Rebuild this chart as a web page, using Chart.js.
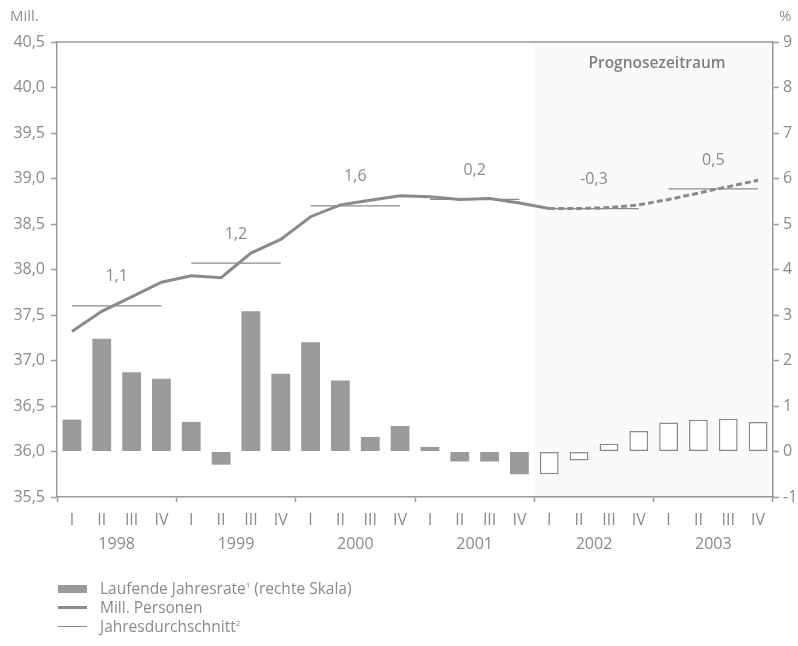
<!DOCTYPE html>
<html>
<head>
<meta charset="utf-8">
<script src="https://cdn.jsdelivr.net/npm/chart.js@4.4.1/dist/chart.umd.min.js"></script>
<style>
  html, body { margin: 0; padding: 0; background: #ffffff; }
  #wrap { position: relative; width: 798px; height: 646px; font-family: "Open Sans", sans-serif; color: #8a8a8a; }
  #c { position: absolute; left: 0; top: 0; }
  .unit { position: absolute; font-size: 15px; color: #8f8f8f; }
  #legend { position: absolute; left: 58px; top: 579px; font-size: 15.5px; color: #8a8a8a; }
  .row { position: relative; height: 19px; line-height: 19px; padding-left: 42px; white-space: nowrap; }
  .sw { position: absolute; left: 0; }
  sup { font-size: 8px; vertical-align: 6px; line-height: 0; }
</style>
</head>
<body>
<div id="wrap">
  <canvas id="c" width="798" height="646"></canvas>
  <div class="unit" style="left:10px; top:5px;">Mill.</div>
  <div class="unit" style="left:779px; top:5px;">%</div>
  <div id="legend">
    <div class="row"><span class="sw" style="top:6px; width:29px; height:8px; background:#9a9a9a;"></span>Laufende Jahresrate<sup>1</sup> (rechte Skala)</div>
    <div class="row"><span class="sw" style="top:8px; width:29px; height:3px; background:#8a8a8a;"></span>Mill. Personen</div>
    <div class="row"><span class="sw" style="top:9px; width:29px; height:1px; background:#8a8a8a;"></span>Jahresdurchschnitt<sup>2</sup></div>
  </div>
</div>
<script>
// ---- data ----
const quarters = ['I','II','III','IV','I','II','III','IV','I','II','III','IV','I','II','III','IV','I','II','III','IV','I','II','III','IV'];
const years = ['1998','1999','2000','2001','2002','2003'];
const rate = [0.70, 2.48, 1.74, 1.60,
              0.65, -0.29, 3.08, 1.71,
              2.40, 1.56, 0.32, 0.56,
              0.10, -0.22, -0.22, -0.50,
              -0.50, -0.20, 0.17, 0.45,
              0.64, 0.70, 0.72, 0.65];
const persons = [37.32, 37.54, 37.70, 37.86,
                 37.93, 37.91, 38.18, 38.33,
                 38.58, 38.71, 38.76, 38.81,
                 38.80, 38.77, 38.78, 38.73,
                 38.67, 38.67, 38.68, 38.71,
                 38.77, 38.84, 38.91, 38.98];
const annualAvg = [37.60, 38.07, 38.70, 38.77, 38.67, 38.885];
const annualChange = ['1,1', '1,2', '1,6', '0,2', '-0,3', '0,5'];
const forecastStart = 16; // first forecast quarter (2002 I)
const leftTicks = { min: 35.5, max: 40.5, step: 0.5 };
const rightTicks = { min: -1, max: 9, step: 1 };

// ---- styles ----
const axisColor = '#9a9a9a';
const textColor = '#8a8a8a';
const lineColor = '#8a8a8a';
const barGray = '#9a9a9a';
const tickFont = { family: '"Open Sans", sans-serif', size: 16 };

const avgSeries = annualAvg.flatMap(a => [a, a, a, a]);

const overlay = {
  id: 'overlay',
  beforeDatasetsDraw(chart) {
    const { ctx, chartArea, scales } = chart;
    const x = scales.x;
    const xs = (x.getPixelForTick(forecastStart - 1) + x.getPixelForTick(forecastStart)) / 2;
    ctx.save();
    ctx.fillStyle = 'rgba(0,0,0,0.018)';
    ctx.fillRect(xs, chartArea.top, chartArea.right - xs, chartArea.bottom - chartArea.top);
    ctx.restore();
  },
  afterDatasetsDraw(chart) {
    const { ctx, chartArea, scales } = chart;
    const x = scales.x, y = scales.y;
    ctx.save();
    ctx.font = '16px "Open Sans", sans-serif';
    ctx.fillStyle = textColor;
    ctx.textAlign = 'center';
    ctx.textBaseline = 'middle';
    annualChange.forEach((lbl, i) => {
      const cx = (x.getPixelForTick(i * 4 + 1) + x.getPixelForTick(i * 4 + 2)) / 2;
      const cy = y.getPixelForValue(annualAvg[i]) - 29;
      ctx.fillText(lbl, cx, cy);
    });
    ctx.font = '600 15.5px "Open Sans", sans-serif';
    ctx.fillStyle = '#7e7e7e';
    ctx.fillText('Prognosezeitraum', chartArea.right - 116, chartArea.top + 22);
    // top frame line
    ctx.strokeStyle = axisColor;
    ctx.lineWidth = 1.5;
    ctx.beginPath();
    ctx.moveTo(chartArea.left, chartArea.top);
    ctx.lineTo(chartArea.right, chartArea.top);
    ctx.stroke();
    ctx.restore();
  }
};

new Chart(document.getElementById('c'), {
  data: {
    labels: quarters,
    datasets: [
      {
        type: 'line',
        label: 'Jahresdurchschnitt',
        data: avgSeries,
        yAxisID: 'y',
        borderColor: lineColor,
        borderWidth: 1.3,
        pointRadius: 0,
        tension: 0,
        segment: {
          borderColor: c => (c.p0DataIndex % 4 === 3) ? 'transparent' : lineColor
        },
        order: 1
      },
      {
        type: 'line',
        label: 'Mill. Personen',
        data: persons,
        yAxisID: 'y',
        borderColor: lineColor,
        borderWidth: 3,
        pointRadius: 0,
        tension: 0,
        segment: {
          borderDash: c => (c.p0DataIndex >= forecastStart) ? [6, 3] : undefined
        },
        order: 0
      },
      {
        type: 'bar',
        label: 'Laufende Jahresrate',
        data: rate,
        yAxisID: 'y1',
        backgroundColor: c => (c.dataIndex >= forecastStart) ? '#ffffff' : barGray,
        borderColor: c => (c.dataIndex >= forecastStart) ? '#8a8a8a' : barGray,
        borderWidth: c => (c.dataIndex >= forecastStart) ? 1.5 : 0,
        borderSkipped: false,
        barPercentage: 0.63,
        categoryPercentage: 1.0,
        order: 2
      }
    ]
  },
  options: {
    responsive: false,
    animation: false,
    events: [],
    layout: { padding: { left: 0, right: 0, top: 42, bottom: 92 } },
    plugins: { legend: { display: false }, tooltip: { enabled: false } },
    scales: {
      x: {
        type: 'category',
        position: 'bottom',
        weight: 0,
        offset: true,
        grid: {
          offset: true,
          drawOnChartArea: false,
          drawTicks: true,
          tickLength: 5,
          tickWidth: 1.5,
          tickColor: c => (c.type !== 'tick' || c.index % 4 === 0) ? axisColor : 'transparent'
        },
        border: { display: true, color: axisColor, width: 1.5 },
        ticks: { font: tickFont, color: textColor, padding: 9, autoSkip: false, maxRotation: 0 },
        afterFit: s => { s.height = 33; }
      },
      x2: {
        type: 'category',
        labels: years,
        position: 'bottom',
        weight: 1,
        offset: true,
        grid: { display: false, drawTicks: false },
        border: { display: false },
        ticks: { font: tickFont, color: textColor, padding: 5, autoSkip: false, maxRotation: 0 },
        afterFit: s => { s.height = 24; }
      },
      y: {
        position: 'left',
        min: leftTicks.min,
        max: leftTicks.max,
        ticks: {
          stepSize: leftTicks.step,
          font: tickFont,
          color: textColor,
          padding: 6,
          callback: v => Number(v).toFixed(1).replace('.', ',')
        },
        grid: { drawOnChartArea: false, tickLength: 6, tickWidth: 1.5, tickColor: axisColor },
        border: { display: true, color: axisColor, width: 1.5 },
        afterFit: s => { s.width = 57; }
      },
      y1: {
        position: 'right',
        min: rightTicks.min,
        max: rightTicks.max,
        ticks: {
          stepSize: rightTicks.step,
          font: tickFont,
          color: textColor,
          padding: 4,
          callback: v => String(v)
        },
        grid: { drawOnChartArea: false, tickLength: 6, tickWidth: 1.5, tickColor: axisColor },
        border: { display: true, color: axisColor, width: 1.5 },
        afterFit: s => { s.width = 25; }
      }
    }
  },
  plugins: [overlay]
});
</script>
</body>
</html>
